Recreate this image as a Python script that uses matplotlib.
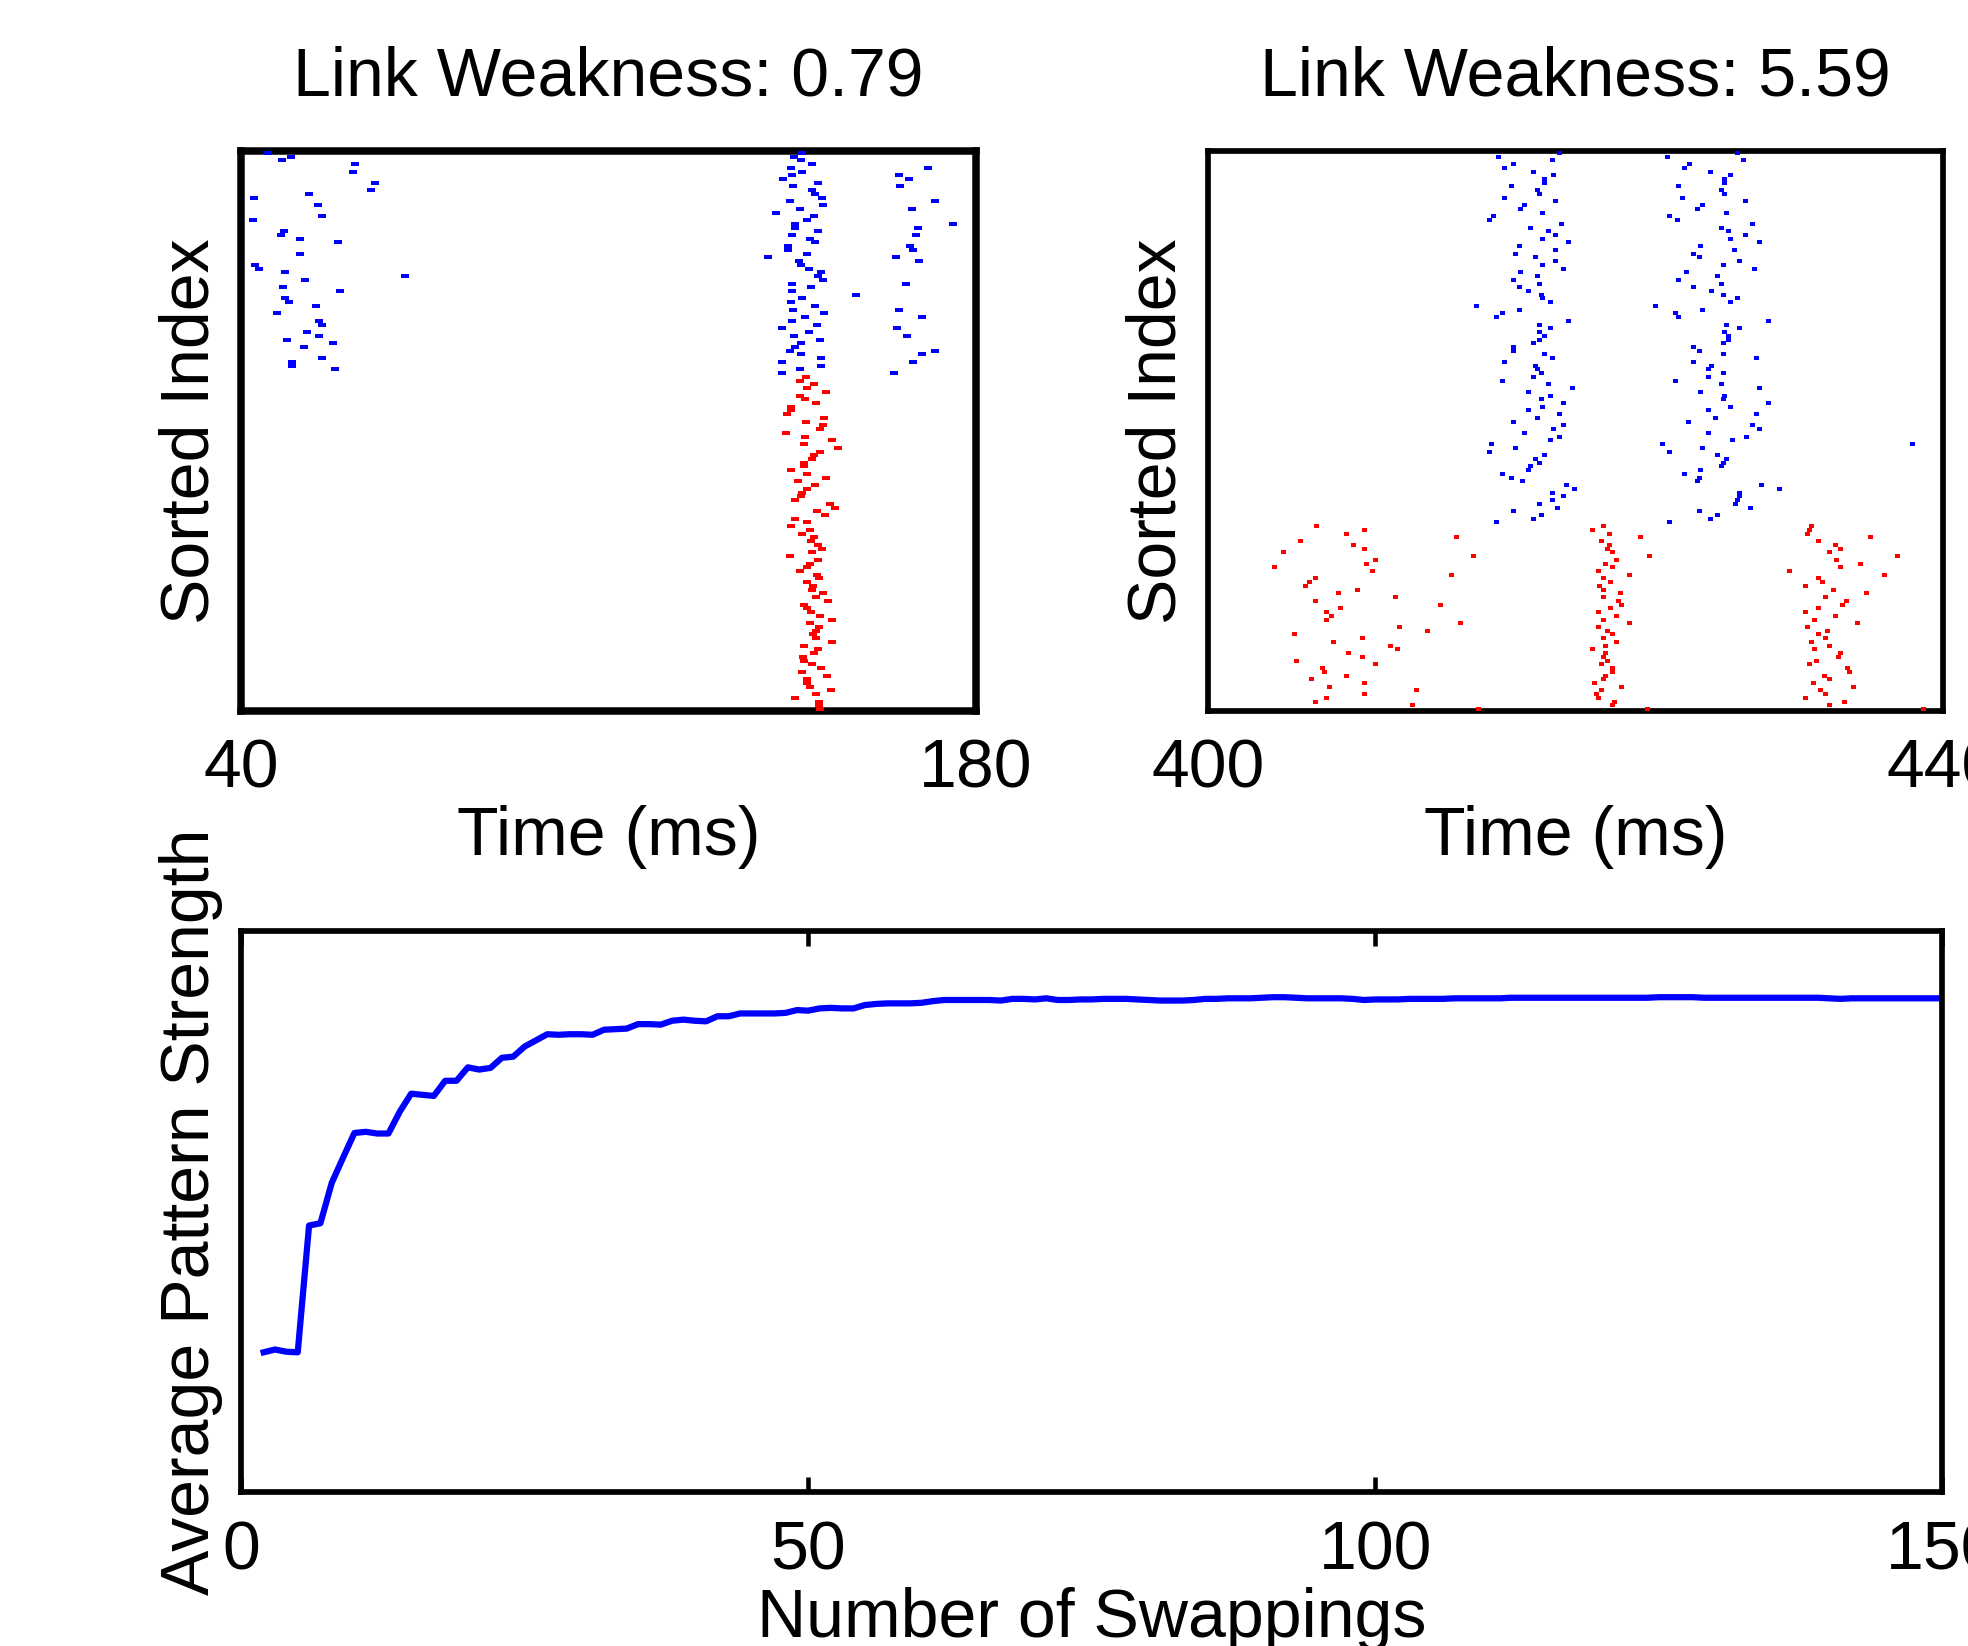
import numpy as np
import matplotlib
matplotlib.use("Agg")
import matplotlib.pyplot as plt
from matplotlib.path import Path

plt.rcParams['font.family'] = ['Liberation Sans', 'DejaVu Sans']
plt.rcParams['font.size'] = 49

# ---------------- data ----------------
# left raster (link weakness 0.79), time in ms, y = sorted index (1 at bottom)
lw_titles = ["Link Weakness: 0.79", "Link Weakness: 5.59"]

# red neurons, index 90 -> 1, one spike each
a_red_t = [147.6, 146.5, 149.1, 147.8, 151.5, 146.5, 147.4, 149.5, 144.7, 144.7,
           144.0, 151.0, 147.6, 150.8, 150.2, 143.8, 147.4, 152.6, 147.2, 153.8,
           150.2, 149.1, 148.7, 147.2, 147.2, 144.7, 147.8, 151.4, 146.1, 149.3,
           147.8, 146.8, 146.6, 145.6, 152.1, 153.1, 149.7, 151.2, 145.6, 147.8,
           144.7, 148.3, 146.8, 149.1, 148.5, 149.9, 150.6, 148.7, 144.5, 149.9,
           148.3, 147.8, 146.5, 149.7, 150.1, 147.8, 149.0, 148.7, 150.8, 149.5,
           151.9, 147.2, 147.8, 148.5, 150.2, 152.5, 148.3, 150.1, 149.5, 149.0,
           149.5, 152.5, 147.2, 149.9, 149.1, 147.0, 147.2, 148.7, 150.4, 146.8,
           151.7, 147.9, 147.8, 148.3, 152.3, 149.5, 145.6, 150.1, 150.1, 150.2]
a_red_idx = np.arange(90, 0, -1)

# blue neurons, index 150 -> 91, main burst
a_blue_t = [146.8, 145.4, 146.6, 148.7, 144.7, 146.8, 144.9, 143.3, 149.9, 145.1,
            148.7, 149.3, 150.6, 144.5, 150.8, 146.5, 142.0, 149.1, 147.8, 145.6,
            145.6, 149.9, 144.9, 148.3, 149.3, 144.1, 144.1, 147.9, 140.4, 146.3,
            146.6, 148.1, 150.4, 149.9, 150.8, 144.9, 148.5, 144.9, 157.1, 146.8,
            144.7, 149.3, 145.1, 151.0, 147.4, 144.9, 149.7, 143.0, 148.1, 145.4,
            150.2, 146.6, 145.6, 144.5, 146.6, 150.4, 143.0, 150.4, 146.5, 143.0]
a_blue_idx = np.arange(150, 90, -1)

# blue early spikes
a_early_idx = [150, 149, 148, 147, 145, 142, 140, 139, 138, 136, 133, 132, 129, 128,
               127, 126, 123, 120, 119, 118, 117, 116, 114, 113, 111, 110, 109, 107,
               105, 104, 102, 101, 100, 99, 98, 95, 94, 93, 92]
a_early_t = [45.2, 49.6, 47.9, 61.8, 61.4, 65.5, 64.7, 53.0, 42.5, 54.7, 55.5, 42.3, 48.2, 47.7,
             51.2, 58.4, 51.2, 42.7, 43.5, 48.4, 71.3, 52.2, 48.0, 58.8, 48.4, 49.1, 54.3, 46.9,
             54.9, 55.5, 52.5, 54.9, 48.8, 57.6, 52.0, 55.5, 49.8, 49.8, 57.9]

# blue late spikes
a_late_idx = [146, 144, 143, 141, 137, 135, 131, 130, 128, 125, 124, 122, 121, 115,
              108, 106, 103, 101, 97, 96, 94, 91]
a_late_t = [170.9, 165.3, 167.2, 165.5, 172.1, 167.8, 175.6, 168.9, 168.5, 167.4, 168.0,
            164.8, 169.1, 166.6, 165.3, 169.8, 164.9, 166.8, 172.1, 169.8, 168.0, 164.4]

# right raster (link weakness 5.59)
# blue neurons, index 150 -> 51, two bursts
b_blue1_t = [419.1, 415.8, 418.7, 416.6, 416.1, 417.7, 418.8, 418.3, 418.3, 416.5,
             417.9, 418.0, 416.1, 418.9, 417.2, 417.0, 418.2, 415.5, 415.3, 419.2,
             417.5, 418.5, 418.9, 418.2, 419.6, 416.9, 418.9, 416.7, 417.8, 418.9,
             418.2, 419.3, 417.0, 417.9, 416.6, 418.0, 416.9, 417.4, 418.1, 418.2,
             418.6, 414.6, 416.9, 416.0, 415.7, 419.6, 418.0, 418.6, 418.0, 418.3,
             418.0, 417.7, 416.6, 416.6, 418.3, 418.7, 416.1, 417.8, 417.9, 418.1,
             417.7, 416.0, 418.5, 419.8, 417.4, 418.6, 418.1, 419.3, 418.2, 417.4,
             419.1, 417.9, 416.6, 419.3, 418.8, 417.2, 419.1, 418.6, 415.4, 416.7,
             415.3, 418.3, 417.8, 418.0, 417.5, 417.4, 416.0, 416.5, 417.1, 419.5,
             419.9, 418.7, 419.3, 418.7, 418.0, 419.0, 416.6, 418.1, 417.7, 415.7]
b_blue2_t = [428.8, 425.0, 429.1, 426.2, 425.9, 427.3, 428.4, 428.1, 428.1, 425.6,
             427.9, 428.1, 425.8, 429.2, 426.9, 426.6, 428.2, 425.1, 425.5, 429.6,
             427.9, 428.3, 429.2, 428.4, 430.0, 426.8, 428.6, 426.4, 426.7, 428.9,
             428.0, 429.7, 426.0, 427.7, 425.6, 427.9, 426.4, 427.4, 428.0, 428.8,
             428.4, 424.3, 426.9, 425.4, 425.6, 430.5, 428.2, 428.9, 428.1, 428.3,
             428.3, 428.0, 426.4, 426.7, 428.0, 429.8, 426.4, 427.4, 427.2, 428.0,
             427.2, 425.4, 427.9, 430.0, 426.8, 428.1, 428.0, 430.5, 428.4, 427.2,
             429.8, 427.6, 426.1, 429.6, 430.0, 427.2, 429.3, 428.5, 424.7, 426.9,
             425.1, 427.7, 428.2, 428.0, 427.9, 426.8, 425.9, 426.7, 426.6, 430.1,
             431.1, 428.9, 428.9, 428.8, 428.7, 429.5, 426.7, 427.7, 427.3, 425.1]
b_blue_idx = np.arange(150, 50, -1)
b_blue_extra_idx = [72]
b_blue_extra_t = [438.3]

# red neurons, index 50 -> 1, three bursts
b_red1_t = [405.9, 408.5, 407.5, 413.5, 405.0, 407.9, 408.5, 404.1, 414.4, 409.1,
            408.6, 403.6, 408.9, 413.2, 405.8, 405.5, 405.3, 408.1, 407.1, 410.2,
            405.8, 412.6, 407.2, 406.4, 406.7, 406.4, 413.7, 410.4, 411.9, 404.7,
            408.4, 406.8, 409.9, 410.3, 407.6, 408.4, 404.8, 409.1, 406.2, 406.3,
            407.5, 405.6, 408.5, 406.6, 411.3, 408.5, 406.4, 405.8, 411.1, 414.7]
b_red2_t = [421.5, 420.9, 421.8, 423.5, 421.4, 421.8, 421.7, 422.0, 424.0, 422.2,
            421.6, 422.0, 421.2, 422.9, 421.5, 421.9, 421.3, 421.5, 422.4, 421.5,
            422.3, 422.5, 421.9, 421.2, 422.2, 421.5, 422.9, 421.2, 421.7, 422.0,
            421.5, 422.2, 421.6, 420.9, 421.6, 421.5, 421.7, 421.4, 422.0, 422.0,
            421.6, 421.5, 421.0, 422.5, 421.4, 421.1, 421.2, 422.1, 422.0, 423.9]
b_red3_t = [432.8, 432.7, 432.6, 436.0, 433.2, 434.1, 434.4, 433.8, 437.5, 434.2,
            435.5, 434.4, 431.6, 436.8, 433.2, 433.4, 432.5, 434.0, 435.8, 433.6,
            434.7, 434.5, 433.2, 432.5, 434.1, 433.0, 435.3, 432.6, 433.7, 433.2,
            433.6, 432.8, 433.8, 433.0, 434.4, 434.3, 433.1, 432.7, 434.8, 434.9,
            433.5, 433.8, 432.9, 435.1, 433.3, 433.6, 432.5, 434.6, 433.8, 438.9]
b_red_idx = np.arange(50, 0, -1)

# bottom: average pattern strength vs number of swappings (normalised axis units)
swaps = np.arange(2, 151)
strength = [0.249, 0.254, 0.250, 0.249, 0.475, 0.479, 0.551, 0.596, 0.640, 0.642,
            0.639, 0.639, 0.678, 0.710, 0.708, 0.706, 0.733, 0.733, 0.757, 0.753,
            0.756, 0.774, 0.776, 0.794, 0.805, 0.816, 0.815, 0.816, 0.816, 0.815,
            0.824, 0.825, 0.826, 0.834, 0.834, 0.833, 0.840, 0.842, 0.840, 0.839,
            0.848, 0.848, 0.853, 0.853, 0.853, 0.853, 0.854, 0.859, 0.858, 0.862,
            0.863, 0.862, 0.862, 0.868, 0.870, 0.871, 0.871, 0.871, 0.872, 0.875,
            0.877, 0.877, 0.877, 0.877, 0.877, 0.876, 0.879, 0.879, 0.878, 0.880,
            0.877, 0.877, 0.878, 0.878, 0.879, 0.879, 0.879, 0.878, 0.877, 0.876,
            0.876, 0.876, 0.877, 0.879, 0.879, 0.880, 0.880, 0.880, 0.881, 0.882,
            0.882, 0.881, 0.880, 0.880, 0.880, 0.880, 0.879, 0.877, 0.878, 0.878,
            0.878, 0.879, 0.879, 0.879, 0.879, 0.880, 0.880, 0.880, 0.880, 0.880,
            0.881, 0.881, 0.881, 0.881, 0.881, 0.881, 0.881, 0.881, 0.881, 0.881,
            0.881, 0.881, 0.881, 0.882, 0.882, 0.882, 0.882, 0.881, 0.881, 0.881,
            0.881, 0.881, 0.881, 0.881, 0.881, 0.881, 0.881, 0.881, 0.880, 0.879,
            0.880, 0.880, 0.880, 0.880, 0.880, 0.880, 0.880, 0.880, 0.880]


def rect_marker(h):
    # horizontal dash-like rectangle, width 1 (in markersize units), height h
    return Path([(-1, -h), (1, -h), (1, h), (-1, h), (-1, -h)],
                [Path.MOVETO, Path.LINETO, Path.LINETO, Path.LINETO, Path.CLOSEPOLY])


def spikes(ax, t, idx, color, marker, ms):
    ax.plot(t, idx, linestyle='none', marker=marker, markersize=ms,
            markeredgewidth=0, color=color, zorder=3, clip_on=False)


def style_raster(ax, xlim, title, lw):
    ax.set_xlim(*xlim)
    ax.set_ylim(0.5, 150.5)
    ax.set_xticks(list(xlim))
    ax.set_yticks([])
    ax.tick_params(axis='x', length=0, pad=19)
    for s in ax.spines.values():
        s.set_linewidth(lw)
    ax.set_title(title, pad=40, fontsize=49)
    ax.set_xlabel("Time (ms)", labelpad=2.5)
    ax.set_ylabel("Sorted Index", labelpad=13)


fig = plt.figure(figsize=(19.68, 16.46), dpi=100)

ax1 = fig.add_axes([0.12246, 0.56804, 0.37347, 0.34022])
m1 = rect_marker(0.48)
spikes(ax1, a_red_t, a_red_idx, 'red', m1, 5.4)
spikes(ax1, a_blue_t, a_blue_idx, 'blue', m1, 5.4)
spikes(ax1, a_early_t, a_early_idx, 'blue', m1, 5.4)
spikes(ax1, a_late_t, a_late_idx, 'blue', m1, 5.4)
style_raster(ax1, (40, 180), lw_titles[0], 5.4)

ax2 = fig.add_axes([0.61382, 0.56804, 0.37348, 0.34022])
m2 = rect_marker(0.8)
spikes(ax2, b_blue1_t, b_blue_idx, 'blue', m2, 3.6)
spikes(ax2, b_blue2_t, b_blue_idx, 'blue', m2, 3.6)
spikes(ax2, b_blue_extra_t, b_blue_extra_idx, 'blue', m2, 3.6)
spikes(ax2, b_red1_t, b_red_idx, 'red', m2, 3.6)
spikes(ax2, b_red2_t, b_red_idx, 'red', m2, 3.6)
spikes(ax2, b_red3_t, b_red_idx, 'red', m2, 3.6)
style_raster(ax2, (400, 440), lw_titles[1], 4.1)

ax3 = fig.add_axes([0.12246, 0.09356, 0.86458, 0.34083])
ax3.plot(swaps, strength, color='blue', linewidth=4.5)
ax3.set_xlim(0, 150)
ax3.set_ylim(0, 1)
ax3.set_xticks([0, 50, 100, 150])
ax3.set_yticks([])
ax3.tick_params(axis='x', direction='in', top=True, length=11, width=3.3, pad=20)
for s in ax3.spines.values():
    s.set_linewidth(4.1)
ax3.set_xlabel("Number of Swappings", labelpad=2)
ax3.set_ylabel("Average Pattern Strength", labelpad=13)

fig.savefig("out.png", dpi=100)
